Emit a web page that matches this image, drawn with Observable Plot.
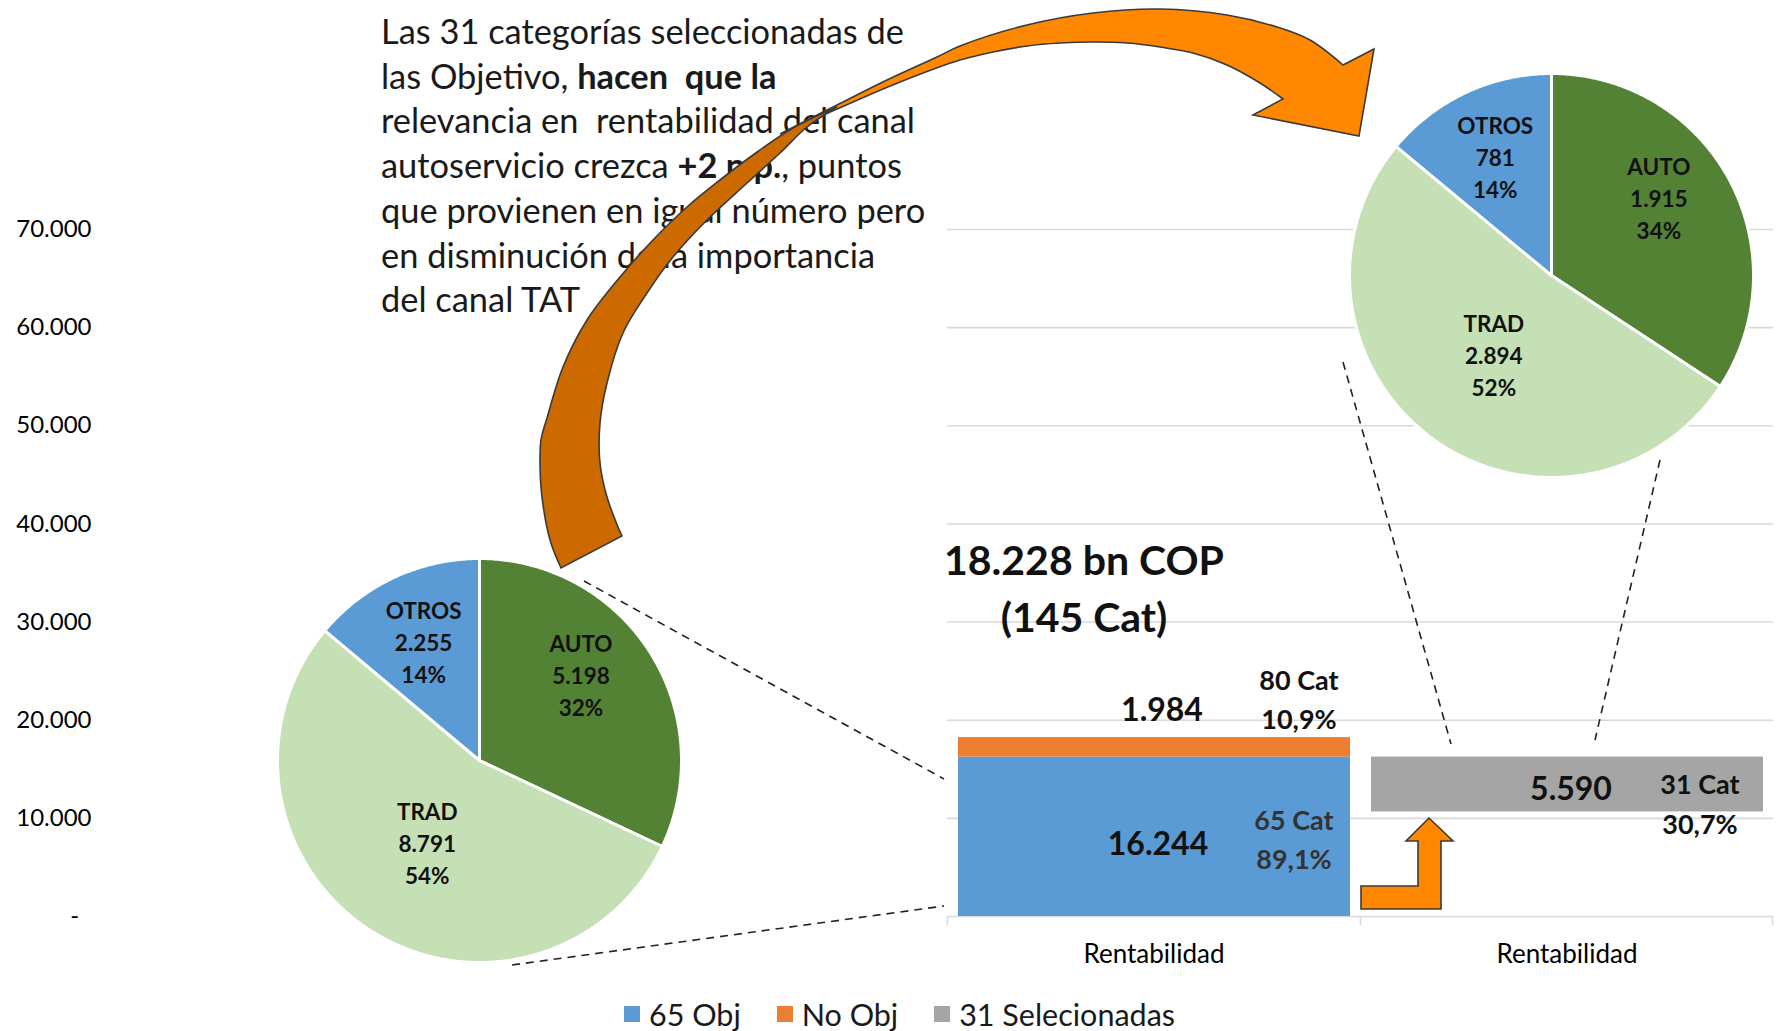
<!DOCTYPE html>
<html>
<head>
<meta charset="utf-8">
<script src="https://cdn.jsdelivr.net/npm/d3@7"></script>
<script src="https://cdn.jsdelivr.net/npm/@observablehq/plot@0.6"></script>
<style>
  html, body { margin: 0; padding: 0; background: #fff; }
  #wrap { position: relative; width: 1776px; height: 1031px; overflow: hidden; font-family: Lato, "Open Sans", sans-serif; color: #000; }
  #note { position: absolute; left: 381px; top: 9px; font-size: 34.4px; line-height: 44.7px; white-space: pre; color: #1a1a1a; }
  #note b { font-weight: 700; }
  #legend { position: absolute; left: 624px; top: 998px; height: 32px; display: flex; align-items: center; font-size: 30.5px; color: #1a1a1a; }
  #legend .item { display: flex; align-items: center; margin-right: 36px; }
  #legend .sw { width: 16px; height: 16px; margin-right: 9px; }
</style>
</head>
<body>
<div id="wrap"></div>
<script>
// ---------------- data ----------------
const barCategories = ["Rentabilidad", "Rentabilidad"];
const seriesNames = ["65 Obj", "No Obj", "31 Selecionadas"];
const seriesValues = [16244, 1984, 5590];
const seriesCats = ["65 Cat", "80 Cat", "31 Cat"];
const seriesShares = ["89,1%", "10,9%", "30,7%"];
const seriesColors = ["#5B9BD5", "#ED7D31", "#A5A5A5"];
const yTicks = [0, 10000, 20000, 30000, 40000, 50000, 60000, 70000];
const totalLines = ["18.228 bn COP", "(145 Cat)"];
const pieChannels = ["AUTO", "TRAD", "OTROS"];
const pieAllValues = [5198, 8791, 2255];
const pieSelectedValues = [1915, 2894, 781];
const pieColors = ["#548235", "#C5E0B4", "#5B9BD5"];
const noteLines = [
  [["Las 31 categorías seleccionadas de", false]],
  [["las Objetivo, ", false], ["hacen  que la", true]],
  [["relevancia en  rentabilidad del canal", false]],
  [["autoservicio crezca ", false], ["+2 p.p.", true], [", puntos", false]],
  [["que provienen en igual número pero", false]],
  [["en disminución de la importancia", false]],
  [["del canal TAT", false]]
];

// ---------------- helpers ----------------
const fmt = d3.formatLocale({decimal: ",", thousands: ".", grouping: [3], currency: ["", ""]}).format(",d");
const wrap = document.getElementById("wrap");
const W = 1776, H = 990;
const slots = ["s1", "s2", "s3", "s4"];          // first two slots stay empty (covered area)
const slotLabels = ["", "", ...barCategories];
const bw = (W - 121 - 3) / slots.length;

// bars
const base = seriesValues[0];
const bars = [
  {slot: "s3", series: seriesNames[0], y1: 0, y2: seriesValues[0]},
  {slot: "s3", series: seriesNames[1], y1: seriesValues[0], y2: seriesValues[0] + seriesValues[1]},
  {slot: "s4", series: seriesNames[2], y1: base - seriesValues[2], y2: base}
];
const gridData = [];
for (const v of yTicks) for (const s of ["s3", "s4"]) gridData.push({slot: s, v});

const topTotal = seriesValues[0] + seriesValues[1];
function lab(d, o) {
  return Plot.text([d], {x: "slot", y: "y", text: "text", fontWeight: "bold", fill: "#111", lineHeight: 1.45, ...o});
}

const chart = Plot.plot({
  width: W, height: H,
  marginTop: 229, marginBottom: 74, marginLeft: 121, marginRight: 3,
  style: {fontFamily: "Lato, sans-serif", background: "transparent", overflow: "visible", color: "#000"},
  x: {type: "band", domain: slots, padding: 0},
  y: {domain: [0, 70000], label: null},
  color: {domain: seriesNames, range: seriesColors},
  marks: [
    Plot.tickY(gridData, {x: "slot", y: "v", stroke: "#d9d9d9", strokeWidth: 1.6}),
    Plot.ruleX(["s3", "s4"], {x: d => d, y1: 0, y2: -950, dx: -bw / 2, stroke: "#d9d9d9", strokeWidth: 1.6}),
    Plot.ruleX(["s4"], {x: d => d, y1: 0, y2: -950, dx: bw / 2 - 1, stroke: "#d9d9d9", strokeWidth: 1.6}),
    Plot.axisY({ticks: yTicks, tickSize: 0, tickPadding: 30, fontSize: 24, label: null,
      tickFormat: d => d === 0 ? "-\u00a0\u00a0" : fmt(d)}),
    Plot.axisX({tickSize: 0, tickPadding: 28, fontSize: 26, label: null,
      tickFormat: d => slotLabels[slots.indexOf(d)]}),
    Plot.barY(bars, {x: "slot", y1: "y1", y2: "y2", fill: "series", insetLeft: 11, insetRight: 10}),
    lab({slot: "s3", y: topTotal, text: fmt(seriesValues[1])}, {fontSize: 32, dx: 8, dy: -31}),
    lab({slot: "s3", y: topTotal, text: seriesCats[1] + "\n" + seriesShares[1]}, {fontSize: 27, dx: 145, dy: -41}),
    lab({slot: "s3", y: seriesValues[0] / 2, text: fmt(seriesValues[0])}, {fontSize: 32, dx: 4, dy: 3}),
    lab({slot: "s3", y: seriesValues[0] / 2, text: seriesCats[0] + "\n" + seriesShares[0]}, {fontSize: 27, dx: 140, dy: 0, fill: "#333"}),
    lab({slot: "s4", y: base - seriesValues[2] / 2, text: fmt(seriesValues[2])}, {fontSize: 32, dx: 4, dy: 1}),
    lab({slot: "s4", y: base - seriesValues[2] / 2, text: seriesCats[2] + "\n" + seriesShares[2]}, {fontSize: 27, dx: 133, dy: 17}),
    lab({slot: "s3", y: topTotal, text: totalLines.join("\n")}, {fontSize: 41, dx: -70, dy: -152, lineHeight: 1.39})
  ]
});
chart.style.position = "absolute";
chart.style.left = "0px";
chart.style.top = "0px";
wrap.appendChild(chart);

// ---------------- note text ----------------
const note = document.createElement("div");
note.id = "note";
note.innerHTML = noteLines.map(line => line.map(([t, b]) => b ? `<b>${t}</b>` : t).join("")).join("\n");
wrap.appendChild(note);

// ---------------- pies ----------------
const R = 202;
const labelRadius = [0.66, 0.48, 0.655];
const labelTurn = [-0.14, 0, 0];
function piePlot(values, cx, cy) {
  const S = 2 * R + 12;
  const arcs = d3.pie().sort(null).value(d => d)(values);
  const total = d3.sum(values);
  const pts = [];
  arcs.forEach((a, i) => {
    const ch = pieChannels[i];
    pts.push({ch, x: 0, y: 0});
    const n = Math.ceil((a.endAngle - a.startAngle) / 0.01);
    for (let k = 0; k <= n; k++) {
      const t = a.startAngle + (a.endAngle - a.startAngle) * k / n;
      pts.push({ch, x: R * Math.sin(t), y: -R * Math.cos(t)});
    }
    pts.push({ch, x: 0, y: 0});
  });
  const labels = arcs.map((a, i) => {
    const m = (a.startAngle + a.endAngle) / 2 + labelTurn[i], r = R * labelRadius[i];
    return {x: r * Math.sin(m), y: -r * Math.cos(m),
      text: `${pieChannels[i]}\n${fmt(values[i])}\n${Math.round(values[i] / total * 100)}%`};
  });
  const svg = Plot.plot({
    width: S, height: S, margin: 0,
    style: {fontFamily: "Lato, sans-serif", background: "transparent", overflow: "visible"},
    x: {domain: [-S / 2, S / 2], range: [0, S], axis: null},
    y: {domain: [-S / 2, S / 2], range: [0, S], axis: null},
    color: {domain: pieChannels, range: pieColors},
    marks: [
      Plot.line(pts, {x: "x", y: "y", z: "ch", fill: "ch", stroke: "white", strokeWidth: 3, strokeLinejoin: "round"}),
      Plot.text(labels, {x: "x", y: "y", text: "text", fontSize: 22.5, fontWeight: "bold", lineHeight: 1.42, fill: "#111"})
    ]
  });
  svg.style.position = "absolute";
  svg.style.left = (cx - S / 2) + "px";
  svg.style.top = (cy - S / 2) + "px";
  wrap.appendChild(svg);
}
piePlot(pieAllValues, 479, 760);
piePlot(pieSelectedValues, 1551, 275);

// ---------------- annotations (arrows, connectors) ----------------
const ov = d3.create("svg").attr("width", 1776).attr("height", 1031)
  .style("position", "absolute").style("left", "0px").style("top", "0px");
const cat = d3.line().curve(d3.curveCatmullRom.alpha(0.5));
const cont = pts => cat(pts).replace(/^M/, "L");

// connectors
const dashes = [
  [[584, 581], [944, 779]],
  [[512, 965], [944, 906]],
  [[1343, 362], [1451, 744]],
  [[1660, 460], [1595, 740]]
];
ov.selectAll("line.c").data(dashes).join("line")
  .attr("x1", d => d[0][0]).attr("y1", d => d[0][1]).attr("x2", d => d[1][0]).attr("y2", d => d[1][1])
  .attr("stroke", "#222").attr("stroke-width", 1.6).attr("stroke-dasharray", "8,6");

// big curved arrow: bright (front) part
const brightOuter = [[780, 134], [837, 105], [887, 80], [937, 57], [960, 46], [1027, 25], [1093, 13], [1160, 9], [1227, 15], [1277, 27], [1310, 40], [1343, 65]];
const brightInner = [[1283, 99], [1260, 83], [1227, 65], [1193, 53], [1160, 47], [1127, 43], [1093, 42], [1060, 43], [1027, 46], [993, 52], [960, 60], [900, 82], [837, 109], [780, 134]];
const brightPath = cat(brightOuter) + "L1374,49L1359,136L1253,115" + cont(brightInner) + "Z";
ov.append("path").attr("d", brightPath).attr("fill", "#FF8800").attr("stroke", "#3a3a3a").attr("stroke-width", 1.6).attr("stroke-linejoin", "miter");
// dark (back) part
const darkOuter = [[561, 568], [550, 540], [542, 497], [540, 463], [541, 440], [547, 418], [563, 367], [587, 320], [620, 277], [653, 240], [687, 207], [720, 180], [753, 155], [793, 128], [837, 107]];
const darkInner = [[837, 107], [807, 127], [780, 153], [747, 183], [707, 220], [673, 257], [647, 293], [623, 333], [607, 383], [600, 423], [600, 463], [607, 497], [618, 527], [622, 536]];
ov.append("path").attr("d", cat(darkOuter) + cont(darkInner) + "Z")
  .attr("fill", "#CC6A00").attr("stroke", "#3a3a3a").attr("stroke-width", 1.6);

// small bent-up arrow
ov.append("path").attr("d", "M1361,909L1441,909L1441,841L1453,841L1429,818L1406,841L1418,841L1418,886L1361,886Z")
  .attr("fill", "#FF8800").attr("stroke", "#3a3a3a").attr("stroke-width", 1.6);
wrap.appendChild(ov.node());

// ---------------- legend ----------------
const legend = document.createElement("div");
legend.id = "legend";
legend.innerHTML = seriesNames.map((n, i) =>
  `<div class="item"><div class="sw" style="background:${seriesColors[i]}"></div><span>${n}</span></div>`).join("");
wrap.appendChild(legend);
</script>
</body>
</html>
